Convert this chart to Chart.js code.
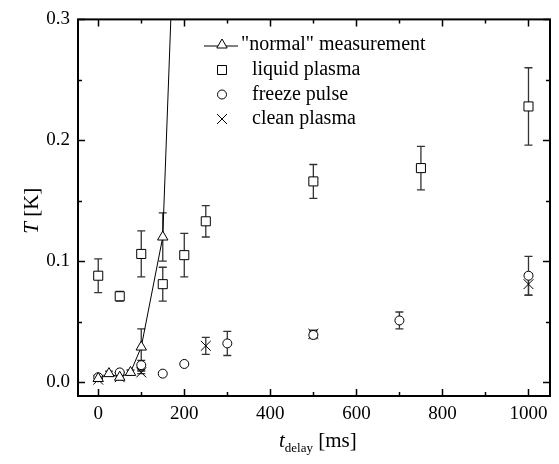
<!DOCTYPE html>
<html><head><meta charset="utf-8">
<script src="https://cdn.jsdelivr.net/npm/chart.js@4/dist/chart.umd.min.js"></script>
<style>html,body{margin:0;padding:0;background:#fff}#wrap{width:559px;height:464px;position:relative}</style>
</head><body><div id="wrap"><canvas id="c" width="559" height="464"></canvas></div>
<script>
// ---- data ----
const normalX = [0, 25, 50, 75, 100, 150, 200];
const normalY = [0.003, 0.007, 0.004, 0.008, 0.029, 0.120, 0.60];
const normalErr = [0.001, 0.002, 0.002, 0.002, 0.015, 0.020, 0];

const liquidX = [0, 50, 100, 150, 200, 250, 500, 750, 1000];
const liquidY = [0.088, 0.071, 0.106, 0.081, 0.105, 0.133, 0.166, 0.177, 0.228];
const liquidErr = [0.014, 0.004, 0.019, 0.014, 0.018, 0.013, 0.014, 0.018, 0.032];

const freezeX = [0, 50, 100, 150, 200, 300, 500, 700, 1000];
const freezeY = [0.004, 0.008, 0.014, 0.007, 0.015, 0.032, 0.039, 0.051, 0.088];
const freezeErr = [0.001, 0.001, 0.004, 0, 0, 0.010, 0.003, 0.007, 0.016];

const cleanX = [0, 50, 100, 250, 500, 1000];
const cleanY = [0.002, 0.004, 0.008, 0.030, 0.040, 0.081];
const cleanErr = [0.001, 0.001, 0.001, 0.007, 0.003, 0.009];

const xTickValues = [0, 100, 200, 300, 400, 500, 600, 700, 800, 900, 1000];
const yTickValues = [0, 0.05, 0.10, 0.15, 0.20, 0.25, 0.30];
const legendLabels = ['"normal" measurement', 'liquid plasma', 'freeze pulse', 'clean plasma'];

const FONT = '"Liberation Serif", "Times New Roman", serif';
const pts = (xs, ys) => xs.map((x, i) => ({x: x, y: ys[i]}));

const errPlugin = {
  id: 'errbars',
  beforeDatasetsDraw(chart) {
    const ctx = chart.ctx, xs = chart.scales.x, ys = chart.scales.y;
    const a = chart.chartArea;
    ctx.save();
    ctx.beginPath(); ctx.rect(a.left, a.top, a.right - a.left, a.bottom - a.top); ctx.clip();
    ctx.strokeStyle = '#333'; ctx.lineWidth = 1.3;
    chart.data.datasets.forEach(ds => {
      ds.data.forEach((p, i) => {
        const e = ds.err[i]; if (!e) return;
        const px = xs.getPixelForValue(p.x);
        const y1 = ys.getPixelForValue(p.y + e), y2 = ys.getPixelForValue(p.y - e);
        ctx.beginPath();
        ctx.moveTo(px, y1); ctx.lineTo(px, y2);
        ctx.moveTo(px - 4, y1); ctx.lineTo(px + 4, y1);
        ctx.moveTo(px - 4, y2); ctx.lineTo(px + 4, y2);
        ctx.stroke();
      });
    });
    ctx.restore();
  }
};

function marker(ctx, style, x, y) {
  ctx.beginPath();
  if (style === 'triangle') {
    ctx.moveTo(x, y - 6); ctx.lineTo(x + 5.2, y + 3); ctx.lineTo(x - 5.2, y + 3); ctx.closePath();
    ctx.fill(); ctx.stroke();
  } else if (style === 'rect') {
    ctx.rect(x - 4.5, y - 4.5, 9, 9); ctx.fill(); ctx.stroke();
  } else if (style === 'circle') {
    ctx.arc(x, y, 4.5, 0, Math.PI * 2); ctx.fill(); ctx.stroke();
  } else {
    ctx.moveTo(x - 5, y - 5); ctx.lineTo(x + 5, y + 5);
    ctx.moveTo(x + 5, y - 5); ctx.lineTo(x - 5, y + 5); ctx.stroke();
  }
}

const framePlugin = {
  id: 'frame',
  afterDraw(chart) {
    const ctx = chart.ctx, a = chart.chartArea, xs = chart.scales.x, ys = chart.scales.y;
    ctx.save();
    ctx.strokeStyle = '#000'; ctx.lineWidth = 2;
    ctx.strokeRect(a.left, a.top, a.right - a.left, a.bottom - a.top);
    ctx.lineWidth = 1.5;
    ctx.beginPath();
    xTickValues.forEach(v => {
      const px = Math.round(xs.getPixelForValue(v)) + 0.5;
      const L = (v % 200 === 0) ? 7 : 4;
      ctx.moveTo(px, a.bottom); ctx.lineTo(px, a.bottom - L);
      ctx.moveTo(px, a.top); ctx.lineTo(px, a.top + L);
    });
    yTickValues.forEach((v, i) => {
      const py = Math.round(ys.getPixelForValue(v)) + 0.5;
      const L = (i % 2 === 0) ? 7 : 4;
      ctx.moveTo(a.left, py); ctx.lineTo(a.left + L, py);
      ctx.moveTo(a.right, py); ctx.lineTo(a.right - L, py);
    });
    ctx.stroke();

    // legend
    ctx.strokeStyle = '#000'; ctx.lineWidth = 1;
    const styles = ['triangle', 'rect', 'circle', 'crossRot'];
    const lx = 222, rows = [45, 70, 94.5, 119];
    styles.forEach((s, i) => {
      const y = rows[i];
      if (i === 0) {
        ctx.beginPath(); ctx.moveTo(204, y + 1); ctx.lineTo(238, y + 1); ctx.stroke();
      }
      ctx.fillStyle = '#fff';
      marker(ctx, s, lx, y);
    });
    ctx.fillStyle = '#000';
    ctx.font = '20px ' + FONT;
    ctx.textBaseline = 'middle'; ctx.textAlign = 'left';
    legendLabels.forEach((t, i) => ctx.fillText(t, i === 0 ? 241 : 252, rows[i]));

    // axis titles
    ctx.textBaseline = 'alphabetic';
    ctx.font = 'italic 21px ' + FONT;
    const tW = ctx.measureText('t').width;
    ctx.font = '13px ' + FONT;
    const dW = ctx.measureText('delay').width;
    let x0 = 279;
    const by = 447;
    ctx.font = 'italic 21px ' + FONT; ctx.fillText('t', x0, by); x0 += tW;
    ctx.font = '13px ' + FONT; ctx.fillText('delay', x0, by + 5); x0 += dW;
    ctx.font = '21px ' + FONT; ctx.fillText(' [ms]', x0, by);
    // y title
    ctx.save();
    ctx.translate(38, (a.top + a.bottom) / 2 + 3);
    ctx.rotate(-Math.PI / 2);
    ctx.font = 'italic 21px ' + FONT;
    const TW = ctx.measureText('T').width;
    ctx.font = '21px ' + FONT;
    const KW = ctx.measureText(' [K]').width;
    let yx = -(TW + KW) / 2;
    ctx.font = 'italic 21px ' + FONT; ctx.fillText('T', yx, 0); yx += TW;
    ctx.font = '21px ' + FONT; ctx.fillText(' [K]', yx, 0);
    ctx.restore();
    ctx.restore();
  }
};

const common = {borderColor: '#000', backgroundColor: '#fff', borderWidth: 1, pointBorderWidth: 1};
new Chart(document.getElementById('c'), {
  type: 'scatter',
  data: {
    datasets: [
      Object.assign({label: legendLabels[0], data: pts(normalX, normalY), err: normalErr, showLine: true, tension: 0,
        pointStyle: 'triangle', pointRadius: 6}, common),
      Object.assign({label: legendLabels[1], data: pts(liquidX, liquidY), err: liquidErr, pointStyle: 'rect', pointRadius: 6.4}, common),
      Object.assign({label: legendLabels[2], data: pts(freezeX, freezeY), err: freezeErr, pointStyle: 'circle', pointRadius: 4.5}, common),
      Object.assign({label: legendLabels[3], data: pts(cleanX, cleanY), err: cleanErr, pointStyle: 'crossRot', pointRadius: 7}, common)
    ]
  },
  options: {
    responsive: false, animation: false,
    layout: {padding: {left: 0, top: 15, right: 9, bottom: 0}},
    plugins: {legend: {display: false}, tooltip: {enabled: false}},
    scales: {
      x: {
        type: 'linear', min: -47, max: 1050,
        afterBuildTicks: s => { s.ticks = xTickValues.map(v => ({value: v})); },
        afterFit: s => { s.height = 68; },
        grid: {display: false, drawTicks: false},
        border: {display: false},
        ticks: {padding: 7, maxRotation: 0, autoSkip: false, color: '#000',
          font: {family: FONT, size: 19},
          callback: v => (v % 200 === 0 ? String(v) : '')}
      },
      y: {
        type: 'linear', min: -0.0115, max: 0.3,
        afterBuildTicks: s => { s.ticks = yTickValues.map(v => ({value: v})); },
        afterFit: s => { s.width = 78; },
        grid: {display: false, drawTicks: false},
        border: {display: false},
        ticks: {padding: 8, autoSkip: false, color: '#000',
          font: {family: FONT, size: 19},
          callback: (v, i) => (i % 2 === 0 ? v.toFixed(1) : '')}
      }
    }
  },
  plugins: [errPlugin, framePlugin]
});
</script>
</body></html>
